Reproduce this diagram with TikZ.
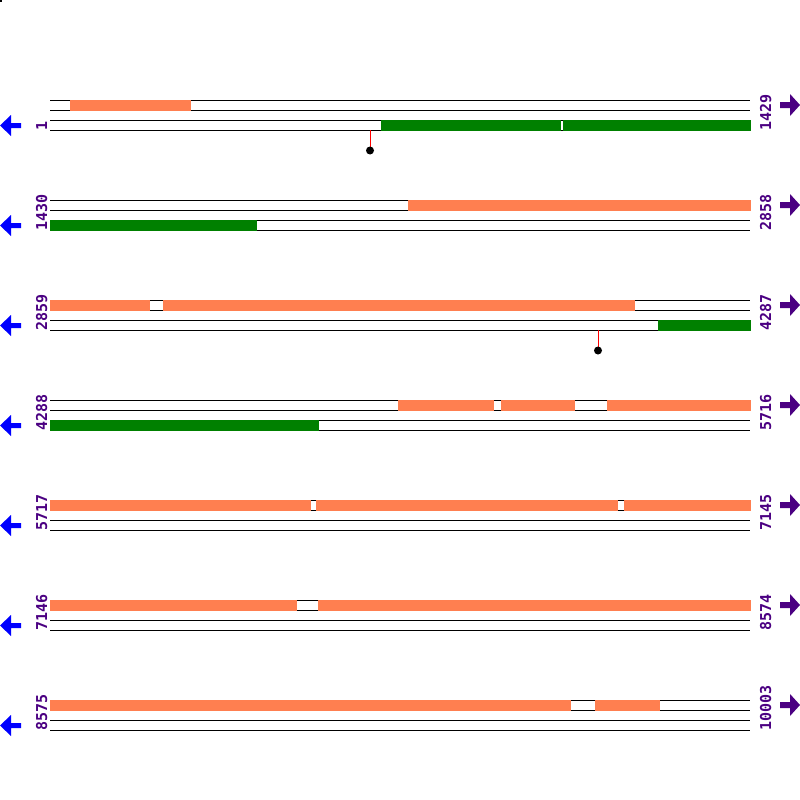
\documentclass[tikz,border=0pt]{standalone}
\usepackage{fontspec}
\setmainfont{DejaVu Sans}
\newfontfamily\labfont{DejaVu Sans Mono}
\definecolor{barorange}{HTML}{FF7F50}
\definecolor{bargreen}{HTML}{008000}
\definecolor{labpurple}{HTML}{4B0082}
\definecolor{arrblue}{HTML}{0000FF}
\begin{document}
\begin{tikzpicture}[x=1pt,y=-1pt,
  trackline/.style={black,line width=1pt},
  orangebar/.style={fill=barorange},
  greenbar/.style={fill=bargreen},
  poslabel/.style={text=labpurple,font=\labfont\bfseries\fontsize{15}{15}\selectfont,rotate=90,anchor=base west,inner sep=0pt},
  lollistem/.style={red,line width=1pt},
  lollihead/.style={fill=black}]
\useasboundingbox[fill=white] (0,0) rectangle (800,800);
\fill[black] (0,0) rectangle (2,2);
% rows
\foreach \r/\la/\lb in {0/1/1429,1/1430/2858,2/2859/4287,3/4288/5716,4/5717/7145,5/7146/8574,6/8575/10003}{
  \pgfmathsetmacro{\Y}{100+100*\r}
  \foreach \d in {0,10,20,30}{
    \draw[trackline] (50,\Y+\d) -- (750,\Y+\d);
  }
  \node[poslabel] (la\r) at (47,\Y+31) {\la};
  \node[poslabel] (lb\r) at (771,\Y+31) {\lb};
  \fill[arrblue] (0,\Y+25.5) -- (11,\Y+15) -- (11,\Y+23) -- (21,\Y+23) -- (21,\Y+28) -- (11,\Y+28) -- (11,\Y+36) -- cycle;
  \fill[labpurple] (800,\Y+5) -- (790,\Y-6) -- (790,\Y+2) -- (780,\Y+2) -- (780,\Y+8) -- (790,\Y+8) -- (790,\Y+16) -- cycle;
}
% orange bars (top track)
\foreach \x/\xx/\Y in {70/191/100,
  408/751/200,
  50/150/300, 163/635/300,
  398/494/400, 501/575/400, 607/751/400,
  50/311/500, 316/618/500, 624/751/500,
  50/297/600, 318/751/600,
  50/571/700, 595/660/700}{
  \fill[orangebar] (\x,\Y-0.5) rectangle (\xx,\Y+10.5);
}
% green bars (bottom track)
\foreach \x/\xx/\Y in {381/561/100, 563/751/100,
  50/257/200,
  658/751/300,
  50/319/400}{
  \fill[greenbar] (\x,\Y+19.5) rectangle (\xx,\Y+30.5);
}
% lollipops
\draw[lollistem] (370,130) -- (370,150);
\fill[lollihead] (370,150.5) circle (4);
\draw[lollistem] (598,330) -- (598,350);
\fill[lollihead] (598,350.5) circle (4);
\end{tikzpicture}
\end{document}
